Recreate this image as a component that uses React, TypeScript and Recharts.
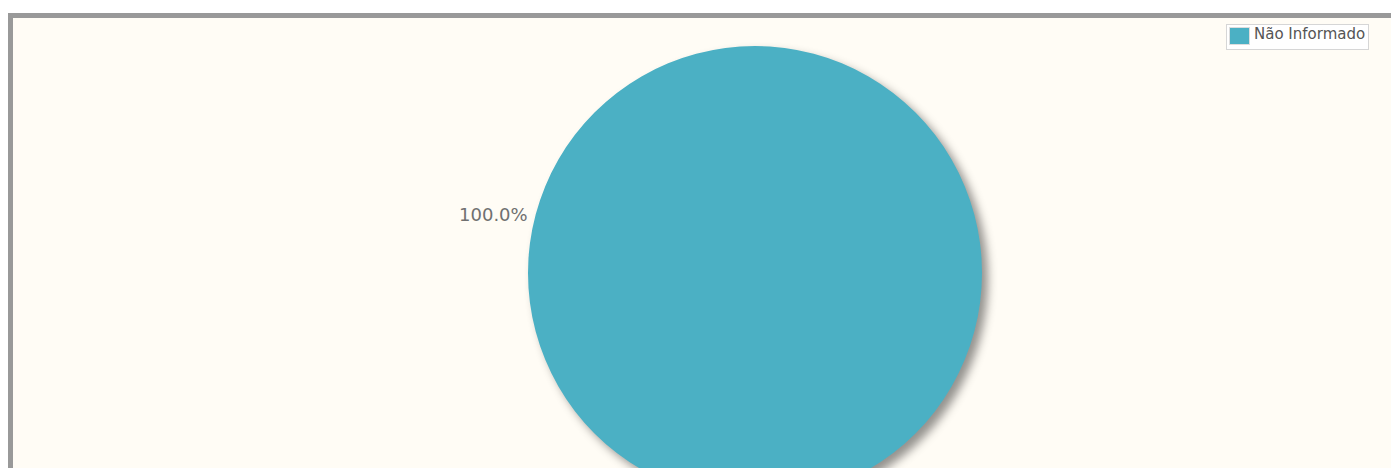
import React from 'react';
import { PieChart, Pie, Cell, Legend } from 'recharts';

const categories = ['Não Informado'];
const values = [100];
const colors = ['#4bb0c4'];

const data = categories.map((name, i) => ({ name, value: values[i] }));
const total = values.reduce((a, b) => a + b, 0);

const RAD = Math.PI / 180;

// rótulo fora da pizza, à esquerda, como no gráfico original
const renderLabel = (props: any) => {
  const { cx, cy, outerRadius, value } = props;
  const ang = 167.5;
  const r = outerRadius + 41;
  const x = cx + r * Math.cos(ang * RAD);
  const y = cy - r * Math.sin(ang * RAD);
  return (
    <text
      x={x}
      y={y}
      textAnchor="middle"
      dominantBaseline="central"
      fill="#707070"
      fontSize={18}
      fontFamily="Tahoma, 'DejaVu Sans', Verdana, sans-serif"
    >
      {((value / total) * 100).toFixed(1) + '%'}
    </text>
  );
};

const renderLegend = (props: any) => {
  const { payload } = props;
  return (
    <div
      style={{
        border: '1px solid #d6d6d6',
        background: '#fff',
        padding: '2px 3px 4px 2px',
        display: 'inline-block',
      }}
    >
      {payload.map((p: any) => (
        <div key={p.value} style={{ display: 'flex', alignItems: 'flex-start' }}>
          <span
            style={{
              width: 21,
              height: 18,
              background: p.color,
              border: '1px solid #ddd',
              boxSizing: 'border-box',
              marginRight: 4,
            }}
          />
          <span
            style={{
              fontSize: 15,
              lineHeight: '14px',
              color: '#555',
              fontFamily: "Tahoma, 'DejaVu Sans', Verdana, sans-serif",
            }}
          >
            {p.value}
          </span>
        </div>
      ))}
    </div>
  );
};

export default function App() {
  return (
    <div style={{ width: 1391, height: 455, overflow: 'hidden', marginTop: 5 }}>
      <style>{`.recharts-pie-sector path { filter: drop-shadow(6px 6px 5px rgba(0,0,0,0.42)); }`}</style>
      <div
        style={{
          width: 1420,
          height: 470,
          border: '5px solid #999',
          background: '#fffcf5',
          position: 'relative',
        }}
      >
        <PieChart width={1400} height={470}>
          <Pie
            data={data}
            dataKey="value"
            nameKey="name"
            cx={737}
            cy={250}
            outerRadius={227}
            startAngle={90}
            endAngle={-270}
            stroke="none"
            label={renderLabel}
            labelLine={false}
            isAnimationActive={false}
          >
            {data.map((d, i) => (
              <Cell key={d.name} fill={colors[i]} />
            ))}
          </Pie>
          <Legend
            content={renderLegend}
            wrapperStyle={{ position: 'absolute', left: 1213, top: 6, width: 'auto' }}
          />
        </PieChart>
      </div>
    </div>
  );
}
